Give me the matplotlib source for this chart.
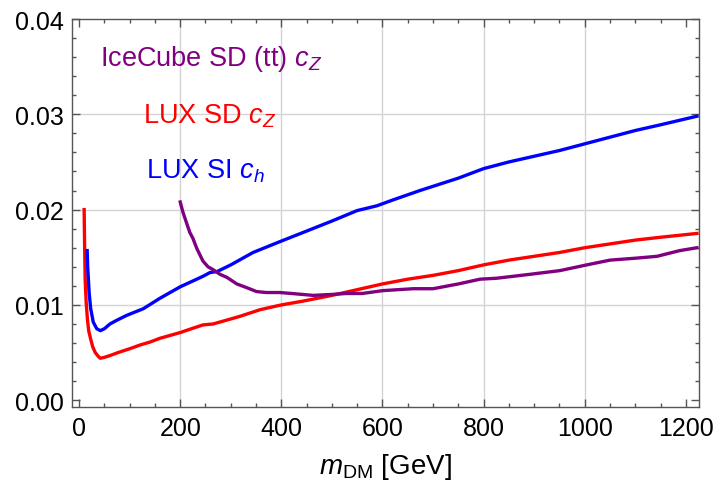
import numpy as np
import matplotlib
matplotlib.use("Agg")
import matplotlib.pyplot as plt
from matplotlib.ticker import MultipleLocator


# LUX SD c_Z (red)
lux_sd_m = [10, 11, 12, 14, 16.5, 19, 23, 27, 32, 38, 42, 50, 62, 77, 100, 121,
            140, 160, 180, 200, 222, 245, 265, 285, 318, 358, 400, 443, 500, 550,
            600, 650, 700, 750, 800, 850, 900, 950, 1000, 1050, 1100, 1150, 1222]
lux_sd_c = [0.0200, 0.0160, 0.0127, 0.0103, 0.0085, 0.0073, 0.0064, 0.0056, 0.0050,
            0.0046, 0.0044, 0.0045, 0.0047, 0.0050, 0.0054, 0.0058, 0.0061, 0.0065,
            0.0068, 0.0071, 0.0075, 0.0079, 0.0080, 0.0083, 0.0088, 0.0095, 0.0100,
            0.0104, 0.0110, 0.0116, 0.0122, 0.0127, 0.0131, 0.0136, 0.0142, 0.0147,
            0.0151, 0.0155, 0.0160, 0.0164, 0.0168, 0.0171, 0.0175]

# LUX SI c_h (blue)
lux_si_m = [16, 17, 18.4, 20, 23, 28, 35, 42, 50, 61, 75, 94, 127, 160, 180, 200,
            245, 259, 273, 300, 344, 400, 443, 500, 550, 589, 620, 674, 750, 800,
            850, 900, 950, 1000, 1050, 1100, 1150, 1222]
lux_si_c = [0.0157, 0.0140, 0.0127, 0.0112, 0.0096, 0.0082, 0.0075, 0.0073, 0.0075,
            0.0080, 0.0084, 0.0089, 0.0096, 0.0107, 0.0113, 0.0119, 0.0130, 0.0134,
            0.0135, 0.0142, 0.0155, 0.0167, 0.0176, 0.0188, 0.0199, 0.0204, 0.0210,
            0.0220, 0.0233, 0.0243, 0.0250, 0.0256, 0.0262, 0.0269, 0.0276, 0.0283,
            0.0289, 0.0298]

# IceCube SD (tt) c_Z (purple)
icecube_m = [200, 205, 210, 219, 225, 233, 245, 255, 265, 279, 292, 312, 332, 351,
             370, 397, 420, 463, 500, 529, 560, 601, 661, 700, 750, 793, 826, 890,
             951, 1004, 1050, 1100, 1143, 1188, 1222]
icecube_c = [0.0208, 0.0198, 0.0190, 0.0176, 0.0170, 0.0159, 0.0146, 0.0140, 0.0137,
             0.0132, 0.0129, 0.0122, 0.0118, 0.0114, 0.0113, 0.0113, 0.0112, 0.0110,
             0.0111, 0.0112, 0.0112, 0.0115, 0.0117, 0.0117, 0.0122, 0.0127, 0.0128,
             0.0132, 0.0136, 0.0142, 0.0147, 0.0149, 0.0151, 0.0157, 0.0160]

x_ticks = [0, 200, 400, 600, 800, 1000, 1200]
y_ticks = [0.00, 0.01, 0.02, 0.03, 0.04]
y_tick_labels = ["0.00", "0.01", "0.02", "0.03", "0.04"]

PURPLE = "#800080"
FRAME = "#555555"

plt.rcParams["font.family"] = ["Liberation Sans", "DejaVu Sans"]
plt.rcParams["mathtext.fontset"] = "custom"
plt.rcParams["mathtext.rm"] = "Liberation Sans"
plt.rcParams["mathtext.it"] = "Liberation Sans:italic"

W, H = 717, 481
fig = plt.figure(figsize=(W / 100, H / 100), dpi=100)
ax = fig.add_axes([72 / W, 1 - 407.7 / H, (699 - 72) / W, (407.7 - 20) / H])

# interior grid lines only
for xv in x_ticks[1:-1]:
    ax.axvline(xv, color="#d4d4d4", lw=1.0, zorder=0)
for yv in y_ticks[1:-1]:
    ax.axhline(yv, color="#d4d4d4", lw=1.0, zorder=0)

ax.plot(lux_sd_m, lux_sd_c, color="red", lw=2.4, solid_joinstyle="round")
ax.plot(lux_si_m, lux_si_c, color="blue", lw=2.4, solid_joinstyle="round")
ax.plot(icecube_m, icecube_c, color=PURPLE, lw=2.4, solid_joinstyle="round")

ax.set_xlim(-14, 1226)
ax.set_ylim(-0.00068, 0.04)

ax.set_xticks(x_ticks)
ax.set_xticklabels([str(v) for v in x_ticks])
ax.set_yticks(y_ticks)
ax.set_yticklabels(y_tick_labels)
ax.xaxis.set_minor_locator(MultipleLocator(50))
ax.yaxis.set_minor_locator(MultipleLocator(0.002))

ax.tick_params(which="both", direction="in", top=True, right=True,
               color=FRAME, width=1.0, labelsize=18, labelcolor="black")
ax.tick_params(which="major", length=5.5)
ax.tick_params(which="minor", length=3.1)
ax.tick_params(axis="x", pad=7)
ax.tick_params(axis="y", pad=6)

for sp in ax.spines.values():
    sp.set_color(FRAME)
    sp.set_linewidth(1.0)

fig.text(100.5 / W, 1 - 66 / H, r"IceCube SD (tt) $c_Z$", color=PURPLE,
         fontsize=19.5, va="baseline", ha="left")
fig.text(143 / W, 1 - 123.3 / H, r"LUX SD $c_Z$", color="red",
         fontsize=19.5, va="baseline", ha="left")
fig.text(146 / W, 1 - 178.3 / H, r"LUX SI $c_h$", color="blue",
         fontsize=19.5, va="baseline", ha="left")

fig.text(385.5 / W, 1 - 474 / H, r"$m_{\mathrm{DM}}$ [GeV]", fontsize=20,
         va="baseline", ha="center")

fig.savefig("out.png", dpi=100)
